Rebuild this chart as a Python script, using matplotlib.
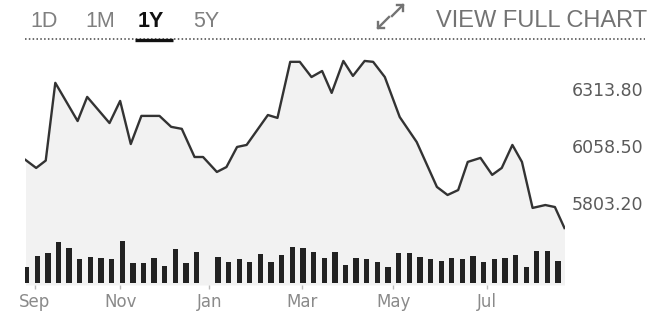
import matplotlib
matplotlib.use('Agg')
import matplotlib.pyplot as plt
from matplotlib.lines import Line2D

# figure size in pixels
W, H = 658, 324

# closing values, x in weeks from the first volume bar
weeks = [-0.1, 0.9, 1.8, 2.7, 4.8, 5.7, 7.8, 8.8, 9.8, 10.8,
         12.5, 13.6, 14.6, 15.8, 16.6, 17.9, 18.8, 19.8, 20.7, 22.7,
         23.6, 24.8, 25.7, 26.8, 27.8, 28.7, 29.8, 30.7, 31.8, 32.6,
         33.7, 35.1, 36.7, 38.6, 39.6, 40.6, 41.5, 42.7, 43.8, 44.7,
         45.7, 46.6, 47.6, 48.8, 49.7, 50.6]
close = [5996, 5960, 5993, 6341, 6170, 6278, 6161, 6260, 6067, 6193,
         6193, 6144, 6135, 6009, 6009, 5942, 5964, 6054, 6063, 6197,
         6184, 6435, 6435, 6367, 6394, 6296, 6439, 6372, 6439, 6435,
         6367, 6188, 6076, 5875, 5839, 5861, 5987, 6005, 5929, 5960,
         6063, 5987, 5781, 5794, 5785, 5691]

# weekly volume (arbitrary units), week 17 has no bar
volume = [166, 276, 300, 416, 356, 243, 266, 250, 243, 423,
          200, 200, 256, 176, 343, 200, 316, 0, 266, 216,
          243, 216, 290, 216, 283, 366, 356, 310, 250, 316,
          183, 250, 243, 210, 166, 300, 300, 266, 243, 223,
          250, 243, 276, 216, 243, 256, 283, 166, 323, 323, 223]

price_ticks = [5803.20, 6058.50, 6313.80]
month_pos = [0.75, 8.8, 17.2, 25.9, 34.5, 43.3]
month_labels = ['Sep', 'Nov', 'Jan', 'Mar', 'May', 'Jul']

tabs = ['1D', '1M', '1Y', '5Y']
tab_x = [30, 85, 138, 193]
active_tab = '1Y'


def fx(x):
  return x / W


def fy(y):
  return 1 - y / H


fig = plt.figure(figsize=(W / 100, H / 100), dpi=100)
fig.patch.set_facecolor('white')

# price chart area
ax = fig.add_axes([fx(25), fy(285), 540 / W, 235 / H])
ymin, ymax = 5436, 6488
ax.fill_between(weeks, close, ymin, color='#f2f2f2', lw=0)
ax.plot(weeks, close, color='#333333', lw=1.7, solid_joinstyle='round')
ax.set_xlim(-0.15, 50.65)
ax.set_ylim(ymin, ymax)

# volume bars (twinx resets the price axis ticks to the left, so do it first)
vax = ax.twinx()
vax.bar(range(len(volume)), volume, width=0.5, color='#222222')
vax.set_ylim(-17, 2333)
vax.axis('off')

ax.yaxis.tick_right()
ax.set_yticks(price_ticks)
ax.yaxis.set_major_formatter('{x:.2f}')
ax.tick_params(axis='y', length=0, pad=5, labelsize=12.5, labelcolor='#5a5a5a')
ax.set_xticks(month_pos, month_labels)
ax.tick_params(axis='x', length=3, width=1, color='#bbbbbb', pad=3,
               labelsize=12, labelcolor='#8a8a8a')
for s in ax.spines.values():
  s.set_visible(False)

# header tabs
for name, x in zip(tabs, tab_x):
  if name == active_tab:
    fig.text(fx(x), fy(26.7), name, fontsize=15.5, family='Liberation Sans',
             fontweight='bold', color='#111111', va='baseline')
  else:
    fig.text(fx(x), fy(26.7), name, fontsize=15.5, family='Liberation Sans',
             color='#7f7f7f', va='baseline')

fig.text(fx(647), fy(26.7), 'VIEW FULL CHART', fontsize=17, family='Liberation Sans',
         color='#737373', va='baseline', ha='right')

# expand icon
icon = '#737373'
for xs, ys in [([392, 403], [16, 5]), ([397, 403, 403], [5, 5, 11]),
               ([389, 378], [17, 28]), ([378, 378, 384], [22, 28, 28])]:
  fig.add_artist(Line2D([fx(v) for v in xs], [fy(v) for v in ys],
                        color=icon, lw=1.7, transform=fig.transFigure))

# dotted rule and active tab underline
fig.add_artist(Line2D([fx(25), fx(645)], [fy(39), fy(39)], color='#444444',
                      lw=1.1, linestyle=(0, (1, 1.5)), transform=fig.transFigure))
fig.add_artist(Line2D([fx(135), fx(173)], [fy(40), fy(40)], color='#111111',
                      lw=2.4, solid_capstyle='butt', transform=fig.transFigure))

fig.savefig('out.png', dpi=100)
